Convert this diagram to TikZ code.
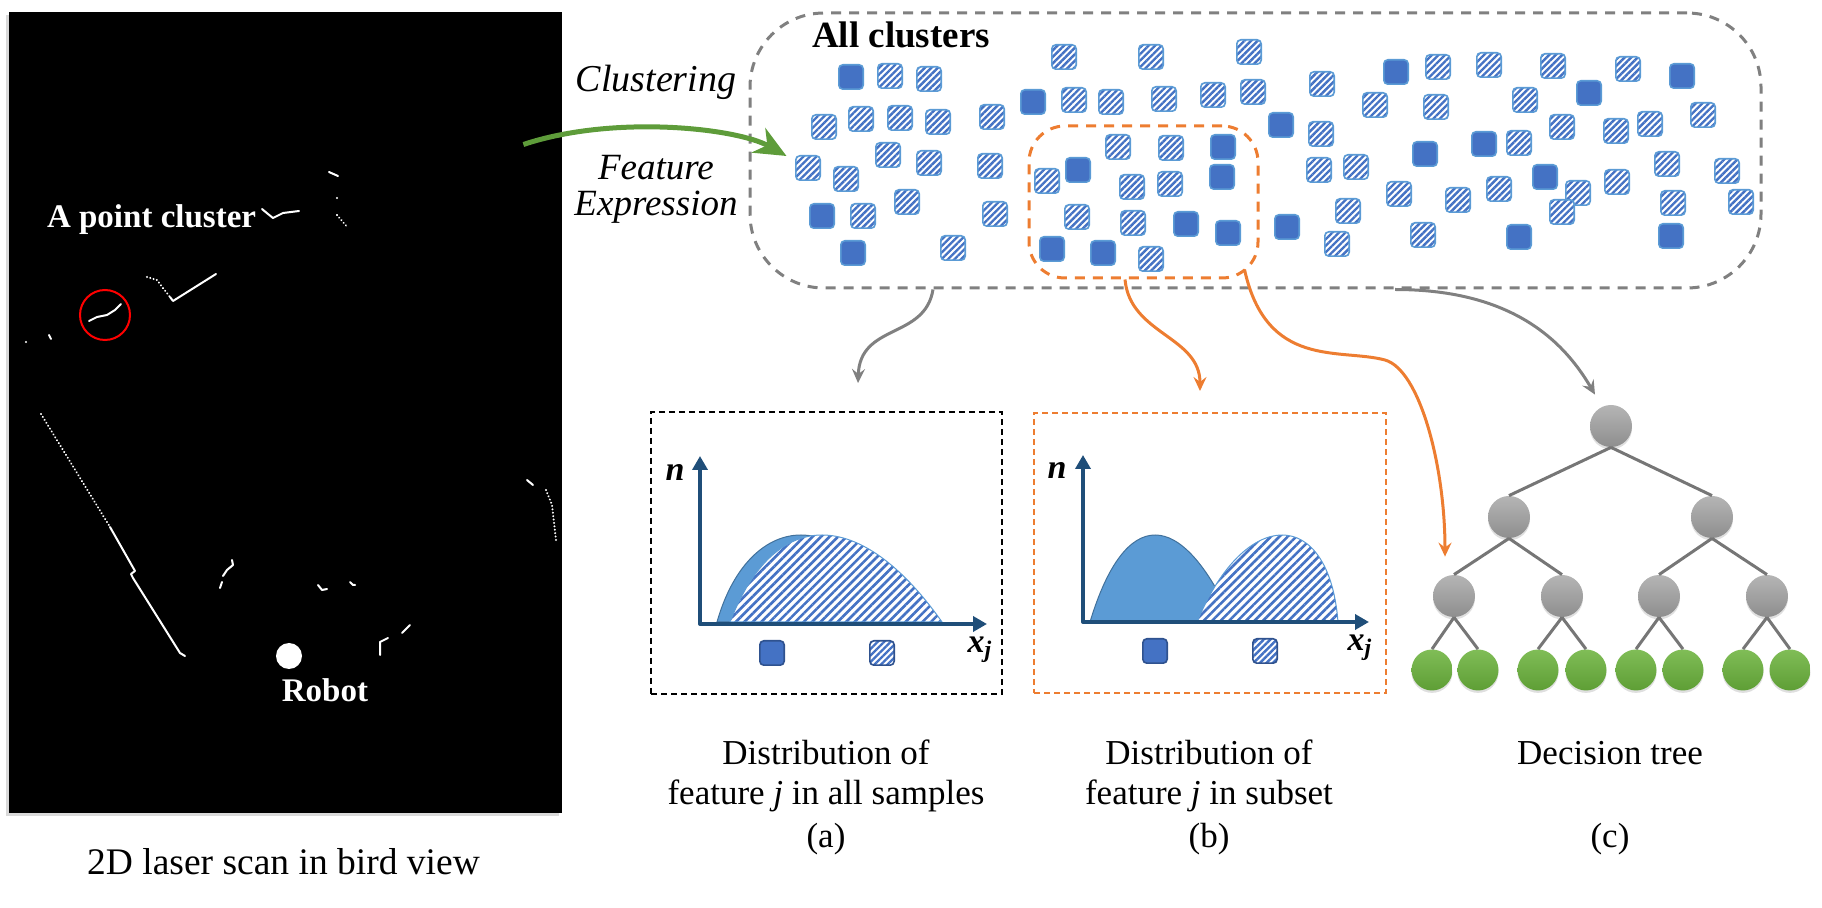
\documentclass[tikz,border=0pt]{standalone}
\usepackage{fontspec}
\setmainfont{Liberation Serif}
\usetikzlibrary{positioning,arrows.meta,patterns.meta,shadows}

\definecolor{sqblue}{HTML}{4472C4}
\definecolor{sqedge}{HTML}{5B9BD5}
\definecolor{keyedge}{HTML}{2F528F}
\definecolor{humpblue}{HTML}{5B9BD5}
\definecolor{humpedge}{HTML}{41719C}
\definecolor{axisblue}{HTML}{1F4E79}
\definecolor{boxgray}{HTML}{808080}
\definecolor{edgegray}{HTML}{767676}
\definecolor{orng}{HTML}{ED7D31}
\definecolor{arrowgreen}{HTML}{5E9C3A}
\definecolor{nodehi}{HTML}{B5B5B5}
\definecolor{nodelo}{HTML}{8E8E8E}
\definecolor{leafhi}{HTML}{80BD57}
\definecolor{leaflo}{HTML}{5E9E35}

\begin{document}
\begin{tikzpicture}[x=0.5pt,y=-0.5pt,
  solidsq/.style={draw=sqedge,fill=sqblue,line width=0.8pt,rounded corners=2pt,minimum size=12.2pt,inner sep=0pt},
  hatchsq/.style={draw=sqedge,line width=0.8pt,rounded corners=2pt,minimum size=12.2pt,inner sep=0pt,
    preaction={fill=white},pattern={Lines[angle=45,distance=2.3pt,line width=1.2pt]},pattern color=sqblue},
  solidkey/.style={solidsq,draw=keyedge},
  hatchkey/.style={hatchsq,draw=keyedge},
  scanline/.style={white,line width=1pt,line cap=round,line join=round},
  scandots/.style={white,line width=1.1pt,line cap=round,dash pattern=on 0.01pt off 1.7pt},
  distbox/.style={draw,dash pattern=on 3pt off 2pt,line width=1pt,minimum width=175.5pt,minimum height=141pt,inner sep=0pt},
  axis/.style={axisblue,line width=2pt,line join=round,{Triangle[length=7pt,width=7.5pt]}-{Triangle[length=7pt,width=7.5pt]}},
  axlbl/.style={font=\fontsize{17}{17}\selectfont\bfseries\itshape},
  humpfill/.style={fill=humpblue,draw=humpedge,line width=0.5pt},
  humphatch/.style={preaction={fill=white},pattern={Lines[angle=45,distance=3pt,line width=1.3pt]},pattern color=sqblue,draw=sqedge,line width=0.5pt},
  inode/.style={circle,minimum size=21pt,inner sep=0pt,top color=nodehi,bottom color=nodelo,
    drop shadow={opacity=0.25,shadow xshift=0pt,shadow yshift=-1.2pt}},
  leaf/.style={inode,minimum size=20.5pt,top color=leafhi,bottom color=leaflo},
  treeedge/.style={draw=edgegray,line width=1.5pt},
  grayarr/.style={draw=boxgray,line width=1.5pt,-{Stealth[length=7pt,width=6.5pt,inset=2.5pt]}},
  orarr/.style={draw=orng,line width=1.5pt,-{Stealth[length=7pt,width=6.5pt,inset=2.5pt]}},
  caption/.style={anchor=base,font=\fontsize{17.5}{20}\selectfont}]
\useasboundingbox (0,0) rectangle (1822,908);

% bird view scan
\node[fill=black,minimum width=276.5pt,minimum height=400.5pt,inner sep=0pt,
  drop shadow={opacity=0.3,shadow xshift=-1.5pt,shadow yshift=-1.5pt}] (scanbox) at (285.5,412.5) {};
\draw[scanline] (89,321) -- (97,317) -- (107,315) -- (115,310) -- (121,304);
\draw[scandots] (147,277) -- (157,280) -- (163,288) -- (170,297);
\draw[scanline] (170,297) -- (173,301) -- (216,274);
\draw[scanline] (262,209) -- (268,214) -- (273,218) -- (283,213) -- (299,211);
\draw[scanline] (329,172) -- (338,176);
\fill[white] (337,198) circle (1.2);
\draw[scandots] (337,215) -- (348,228);
\fill[white] (26,342) circle (1.2);
\draw[scanline] (49,335) -- (51,339);
\draw[scandots] (41,414) -- (110,527);
\draw[scanline] (110,527) -- (135,571) -- (131,574) -- (133,578) -- (180,653) -- (185,656);
\draw[scanline] (232,560) -- (233,565) -- (227,570) -- (223,576);
\draw[scanline] (222,582) -- (220,588);
\draw[scanline] (318,585) -- (322,590) -- (327,589);
\draw[scanline] (350,582) -- (353,585) -- (355,585);
\draw[scanline] (380,655) -- (380,642) -- (388,638);
\draw[scanline] (402,633) -- (410,625);
\draw[scanline] (527,480) -- (533,485);
\draw[scandots] (546,490) -- (552,505) -- (556,540);
\node[circle,draw=red,line width=1pt,minimum size=25pt,inner sep=0pt] (ptcircle) at (105,315) {};
\node[circle,fill=white,minimum size=13pt,inner sep=0pt] (robot) at (289,656) {};
\node[anchor=base west,white,font=\fontsize{16.5}{18}\selectfont\bfseries] (ptlbl) at (40,228) {A point cluster};
\node[anchor=base,white,font=\fontsize{16.5}{18}\selectfont\bfseries] (robotlbl) at (325,702) {Robot};
\node[caption,font=\fontsize{18.75}{20}\selectfont] (scancap) at (283.5,875) {2D laser scan in bird view};

% all clusters
\node[draw=boxgray,line width=1.5pt,dash pattern=on 5pt off 4pt,rounded corners=37pt,
  minimum width=505.5pt,minimum height=137.5pt,inner sep=0pt] (allbox) at (1255.5,150.5) {};
\node[draw=orng,line width=1.5pt,dash pattern=on 5pt off 4pt,rounded corners=18pt,
  minimum width=114.5pt,minimum height=76pt,inner sep=0pt] (subbox) at (1143.5,202) {};
\node[anchor=base west,font=\fontsize{18.5}{20}\selectfont\bfseries] (alllbl) at (805,48) {All clusters};
\foreach \x/\y [count=\i] in {851/77, 822/216, 853/253, 1033/102, 1223/147, 1078/170, 1222/177,
  1186/224, 1228/233, 1052/249, 1103/253, 1396/72, 1281/125, 1425/154, 1484/144, 1545/177,
  1287/227, 1519/237, 1682/76, 1589/93, 1671/236}
  \node[solidsq] (s\i) at (\x,\y) {};
\foreach \x/\y [count=\i] in {890/76, 929/79, 824/127, 861/119, 900/118, 938/122, 808/168, 888/155,
  929/163, 846/179, 907/202, 863/216, 953/248, 1064/57, 1151/57, 1249/52, 992/117, 1074/100,
  1111/102, 1164/99, 1213/95, 1253/92, 990/166, 995/214, 1118/147, 1171/148, 1047/181, 1132/187,
  1170/184, 1077/217, 1133/223, 1151/259, 1322/84, 1438/67, 1489/65, 1553/66, 1375/105, 1436/107,
  1525/100, 1321/134, 1562/127, 1519/143, 1319/170, 1356/167, 1399/194, 1458/200, 1499/189,
  1578/193, 1348/211, 1562/212, 1337/244, 1423/235, 1628/69, 1616/131, 1650/124, 1703/115,
  1617/182, 1667/164, 1727/171, 1673/203, 1741/202}
  \node[hatchsq] (h\i) at (\x,\y) {};

\node[anchor=base,font=\fontsize{19}{20}\selectfont\itshape] (clustlbl) at (656,92) {Clustering};
\node[anchor=north,inner sep=0pt,align=center,font=\fontsize{18.5}{18}\selectfont\itshape] (featlbl) at (656,155) {Feature\\Expression};
\draw[arrowgreen,line width=2.5pt,-{Stealth[length=16pt,width=14pt,inset=5pt]}]
  ([xshift=-19.5pt,yshift=134pt]scanbox.east) .. controls +(90,-30) and +(-50,-28) .. ([xshift=19pt,yshift=-2.75pt]allbox.west);

% distribution (a)
\node[distbox] (dista) at (826.5,553) {};
\fill[humpfill] (717,622) .. controls (750,506) and (850,506) .. (890,622) -- cycle;
\path[humphatch] (730,622) .. controls (775,506) and (860,506) .. (942,622) -- cycle;
\draw[axis] (700,456) |- (987,624);
\node[axlbl] (na) at (675,472) {n};
\node[axlbl] (xa) at (980,650) {x\textsubscript{j}};
\node[solidkey] (keysa) at (772,653) {};
\node[hatchkey] (keyha) at (882,653) {};
\node[caption] (capa) at (826,765) {Distribution of};
\node[caption] (capa2) at ([yshift=-20pt]capa.base) {feature \textit{j} in all samples};
\node[caption] (capa3) at ([yshift=-21.5pt]capa2.base) {(a)};

% distribution (b)
\node[distbox,draw=orng,minimum width=176pt,minimum height=140pt] (distb) at (1210,553) {};
\fill[humpfill] (1090,622) .. controls (1125,506) and (1181,506) .. (1233,622) -- cycle;
\path[humphatch] (1197,622) .. controls (1245,506) and (1329,506) .. (1338,622) -- cycle;
\draw[axis] (1083,455) |- (1369,622);
\node[axlbl] (nb) at (1057,470) {n};
\node[axlbl] (xb) at (1360,648) {x\textsubscript{j}};
\node[solidkey] (keysb) at (1155,651) {};
\node[hatchkey] (keyhb) at (1265,651) {};
\node[caption] (capb) at (1209,765) {Distribution of};
\node[caption] (capb2) at ([yshift=-20pt]capb.base) {feature \textit{j} in subset};
\node[caption] (capb3) at ([yshift=-21.5pt]capb2.base) {(b)};

% decision tree
\node[inode] (root) at (1611,426) {};
\node[inode] (l) at (1509,517) {};
\node[inode] (r) at (1712,517) {};
\node[inode] (ll) at (1454,596) {};
\node[inode] (lr) at (1562,596) {};
\node[inode] (rl) at (1659,596) {};
\node[inode] (rr) at (1767,596) {};
\foreach \n/\x in {lll/1432, llr/1478, lrl/1538, lrr/1586, rll/1636, rlr/1683, rrl/1743, rrr/1790}
  \node[leaf] (\n) at (\x,670) {};
\foreach \p/\c in {root/l, root/r, l/ll, l/lr, r/rl, r/rr, ll/lll, ll/llr, lr/lrl, lr/lrr,
  rl/rll, rl/rlr, rr/rrl, rr/rrr}
  \draw[treeedge] (\p.south) -- (\c.north);
\node[caption] (capc) at (1610,765) {Decision tree};
\node[caption] (capc3) at ([yshift=-41.5pt]capc.base) {(c)};

% links
\draw[grayarr] ([xshift=-161.25pt]allbox.south) .. controls +(-8,50) and +(2,-60) .. ([xshift=15.75pt,yshift=14pt]dista.north);
\draw[orarr] ([xshift=-9.25pt]subbox.south) .. controls +(5,55) and +(0,-55) .. ([xshift=-5pt,yshift=10.5pt]distb.north);
\draw[orarr] ([xshift=-7.5pt,yshift=5pt]subbox.south east) .. controls +(22,100) and +(-45,-12) .. (1385,360)
  .. controls +(35,10) and +(0,-90) .. ([xshift=-4.5pt,yshift=9pt]ll.north);
\draw[grayarr] ([xshift=69.75pt]allbox.south) .. controls +(110,0) and +(-35,-60) .. ([xshift=-8pt,yshift=5pt]root.north);
\end{tikzpicture}
\end{document}
